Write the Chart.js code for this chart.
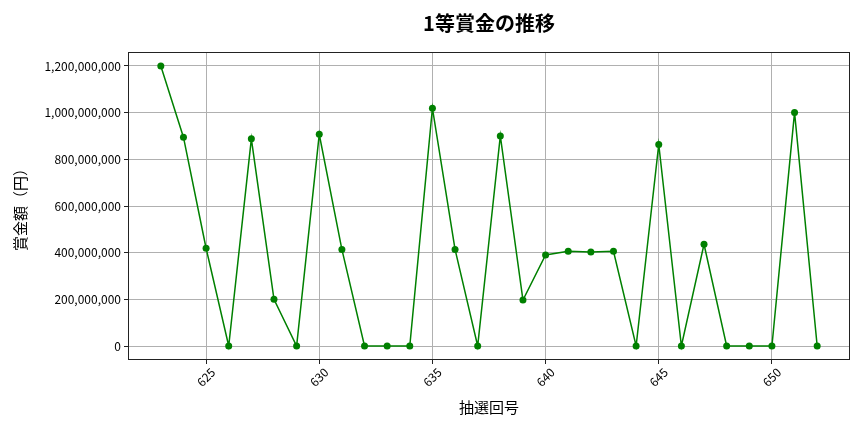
<!DOCTYPE html>
<html>
<head>
<meta charset="utf-8">
<script src="https://cdn.jsdelivr.net/npm/chart.js@4.4.0/dist/chart.umd.min.js"></script>
<style>
    html, body { margin: 0; padding: 0; background: #fff; }
    #wrap { width: 864px; height: 432px; }
</style>
</head>
<body>
<div id="wrap"><canvas id="myChart" width="864" height="432"></canvas></div>
<script>
// 抽選回号
var draws = [623, 624, 625, 626, 627, 628, 629, 630, 631, 632,
             633, 634, 635, 636, 637, 638, 639, 640, 641, 642,
             643, 644, 645, 646, 647, 648, 649, 650, 651, 652];
// 1等賞金（円）
var prizes = [1200000000, 895000000, 419000000, 0, 888000000, 200000000, 0, 907000000, 414000000, 0,
              0, 0, 1019000000, 414000000, 0, 900000000, 197000000, 390000000, 406000000, 403000000,
              406000000, 0, 864000000, 0, 436000000, 0, 0, 0, 1001000000, 0];
var xTicks = [625, 630, 635, 640, 645, 650];
var yTicks = [0, 200000000, 400000000, 600000000, 800000000, 1000000000, 1200000000];

var FONT = "'Noto Sans CJK JP', 'Noto Sans', sans-serif";

var pts = [];
for (var i = 0; i < draws.length; i++) {
    pts.push({x: draws[i], y: prizes[i]});
}

// plot frame on all four sides
var boxPlugin = {
    id: 'box',
    afterDraw: function (chart) {
        var a = chart.chartArea, c = chart.ctx;
        c.save();
        c.strokeStyle = '#222';
        c.lineWidth = 1;
        c.strokeRect(a.left + 0.5, a.top + 0.5, a.right - a.left - 1, a.bottom - a.top - 1);
        c.restore();
    }
};

var ctx = document.getElementById('myChart').getContext('2d');
var mychart = new Chart(ctx, {
    type: 'line',
    data: {
        datasets: [{
            data: pts,
            borderColor: '#008000',
            backgroundColor: '#008000',
            borderWidth: 1.5,
            pointRadius: 3.5,
            pointBorderWidth: 0,
            fill: false,
            tension: 0
        }]
    },
    options: {
        responsive: false,
        animation: false,
        layout: {padding: {left: 0, right: 14, top: 0, bottom: 0}},
        plugins: {
            legend: {display: false},
            tooltip: {enabled: false},
            title: {
                display: true,
                text: '1等賞金の推移',
                fullSize: false,
                color: '#000',
                font: {family: FONT, size: 20, weight: 'bold'},
                padding: {top: 11, bottom: 17}
            }
        },
        scales: {
            x: {
                type: 'linear',
                min: 621.55,
                max: 653.45,
                afterBuildTicks: function (s) {
                    s.ticks = xTicks.map(function (v) { return {value: v}; });
                },
                afterFit: function (s) { s.height = 72; },
                ticks: {
                    color: '#000',
                    font: {family: FONT, size: 12},
                    minRotation: 45,
                    maxRotation: 45,
                    padding: 1,
                    labelOffset: 7,
                    callback: function (v) { return String(v); }
                },
                grid: {color: '#b0b0b0', tickColor: '#222', tickLength: 4},
                border: {display: false},
                title: {
                    display: true,
                    text: '抽選回号',
                    color: '#000',
                    font: {family: FONT, size: 15},
                    padding: {top: 0, bottom: 16}
                }
            },
            y: {
                min: -60000000,
                max: 1260000000,
                afterBuildTicks: function (s) {
                    s.ticks = yTicks.map(function (v) { return {value: v}; });
                },
                afterFit: function (s) { s.width = 128; },
                ticks: {
                    color: '#000',
                    font: {family: FONT, size: 12},
                    padding: 3,
                    callback: function (v) { return Number(v).toLocaleString('en-US'); }
                },
                grid: {color: '#b0b0b0', tickColor: '#222', tickLength: 4},
                border: {display: false},
                title: {
                    display: true,
                    text: '賞金額（円）',
                    color: '#000',
                    font: {family: FONT, size: 15},
                    padding: {top: 11, bottom: 0}
                }
            }
        }
    },
    plugins: [boxPlugin]
});
</script>
</body>
</html>
